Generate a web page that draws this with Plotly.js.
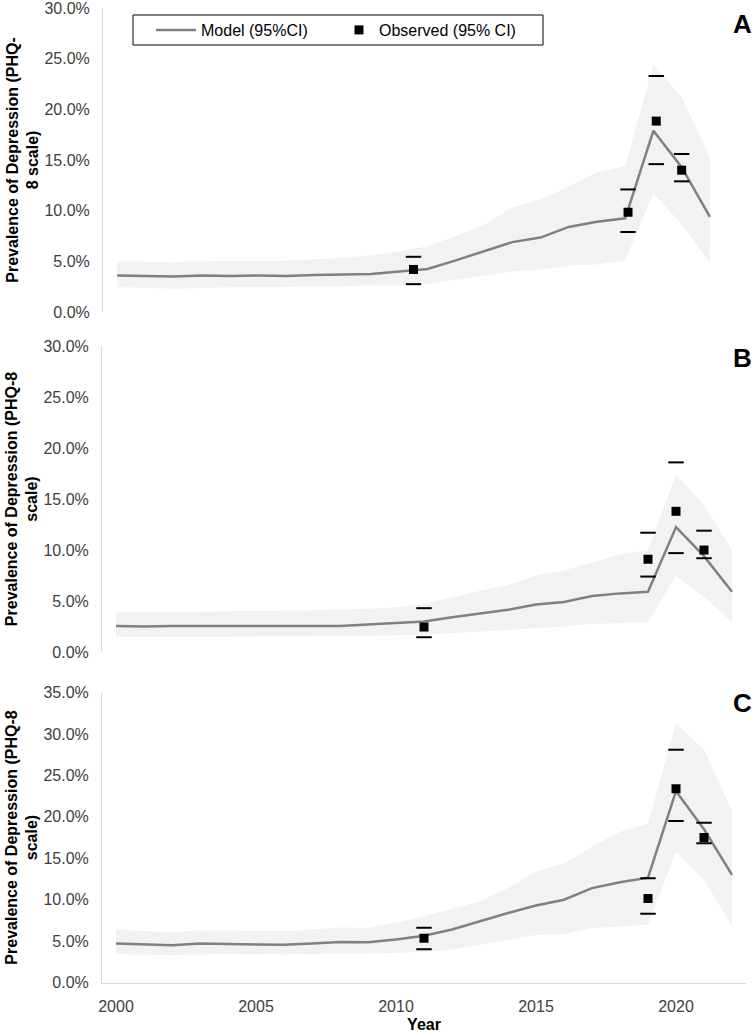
<!DOCTYPE html>
<html>
<head>
<meta charset="utf-8">
<script src="https://cdn.plot.ly/plotly-3.0.1.min.js"></script>
<style>
  html, body { margin: 0; padding: 0; background: #ffffff; }
  #chart { width: 755px; height: 1033px; }
</style>
</head>
<body>
<div id="chart"></div>
<script>
// ---- Years -------------------------------------------------------------
const yearsA = [2000,2001,2002,2003,2004,2005,2006,2007,2008,2009,2010,2011,2012,2013,2014,2015,2016,2017,2018,2019,2020,2021];
const yearsBC = [2000,2001,2002,2003,2004,2005,2006,2007,2008,2009,2010,2011,2012,2013,2014,2015,2016,2017,2018,2019,2020,2021,2022];
const xTicks = [2000, 2005, 2010, 2015, 2020];

// ---- Y tick labels -----------------------------------------------------
const yTicks30 = [0, 5, 10, 15, 20, 25, 30];
const yLabels30 = ['0.0%', '5.0%', '10.0%', '15.0%', '20.0%', '25.0%', '30.0%'];
const yTicks35 = [0, 5, 10, 15, 20, 25, 30, 35];
const yLabels35 = ['0.0%', '5.0%', '10.0%', '15.0%', '20.0%', '25.0%', '30.0%', '35.0%'];

// ---- Panel A: modelled prevalence (%) with 95% CI ----------------------
const modelA = [3.6,3.55,3.5,3.6,3.55,3.6,3.55,3.65,3.7,3.75,4.0,4.25,5.1,6.0,6.9,7.35,8.4,8.9,9.25,17.9,14.3,9.4];
const upperA = [5.0,4.95,4.9,5.0,5.0,5.0,5.05,5.2,5.35,5.6,6.0,6.5,7.5,8.6,10.3,11.1,12.4,13.8,14.4,24.4,21.2,15.3];
const lowerA = [2.45,2.4,2.3,2.4,2.45,2.45,2.45,2.5,2.55,2.6,2.65,2.8,3.2,3.6,4.0,4.2,4.6,4.7,5.1,11.7,8.7,4.9];
// Panel A: observed survey estimates
const obsYearA = [2010.5, 2018.1, 2019.1, 2020.0];
const obsA     = [4.2, 9.85, 18.85, 14.0];
const obsHiA   = [5.45, 12.1, 23.3, 15.6];
const obsLoA   = [2.75, 7.9, 14.6, 12.9];

// ---- Panel B -----------------------------------------------------------
const modelB = [2.55,2.5,2.55,2.55,2.55,2.55,2.55,2.6,2.55,2.7,2.85,3.0,3.4,3.8,4.15,4.65,4.9,5.5,5.75,5.9,12.25,9.4,5.9];
const upperB = [3.9,3.9,3.95,3.95,4.0,4.0,4.05,4.1,4.15,4.25,4.4,4.75,5.35,6.0,6.55,7.5,8.0,8.8,9.6,10.0,17.4,14.4,10.0];
const lowerB = [1.5,1.5,1.5,1.5,1.5,1.5,1.55,1.55,1.55,1.6,1.65,1.7,1.9,2.05,2.2,2.35,2.5,2.75,2.85,2.95,7.5,5.4,2.95];
const obsYearB = [2011, 2019, 2020, 2021];
const obsB     = [2.45, 9.1, 13.8, 10.0];
const obsHiB   = [4.3, 11.7, 18.6, 11.9];
const obsLoB   = [1.45, 7.4, 9.7, 9.2];

// ---- Panel C -----------------------------------------------------------
const modelC = [4.7,4.6,4.5,4.7,4.65,4.65,4.55,4.7,4.9,4.85,5.2,5.65,6.4,7.4,8.4,9.3,10.0,11.4,12.1,12.65,23.1,18.5,13.0];
const upperC = [6.4,6.2,6.05,6.3,6.25,6.2,6.2,6.4,6.65,6.6,7.2,8.0,8.9,9.8,11.4,13.4,14.4,16.4,18.2,19.2,31.3,28.1,20.7];
const lowerC = [3.45,3.35,3.3,3.4,3.45,3.45,3.4,3.45,3.45,3.5,3.55,3.7,3.95,4.55,5.15,5.75,5.85,6.55,6.8,7.0,15.8,12.4,6.8];
const obsYearC = [2011, 2019, 2020, 2021];
const obsC     = [5.35, 10.15, 23.4, 17.5];
const obsHiC   = [6.6, 12.6, 28.1, 19.3];
const obsLoC   = [4.0, 8.3, 19.5, 16.8];

const panelLetters = ['A', 'B', 'C'];
const modelName = 'Model (95%CI)';
const obsName = 'Observed (95% CI)';
const yTitleA = 'Prevalence of Depression (PHQ-<br>8 scale)';
const yTitleBC = 'Prevalence of Depression (PHQ-8<br>scale)';

// ---- Styling -----------------------------------------------------------
const W = 755, H = 1033;
const FONT = '"Liberation Sans", Arial, sans-serif';
const bandColor = '#f2f2f2';
const lineColor = '#808080';
const axisColor = '#d9d9d9';
const tickColor = '#404040';

const px = v => v / W;            // horizontal pixel -> paper fraction
const py = v => 1 - v / H;        // vertical pixel (from top) -> paper fraction

function panelTraces(years, lower, model, upper, oYears, oVal, oHi, oLo, xa, ya, legend) {
  const band = {
    type: 'scatter', mode: 'lines', xaxis: xa, yaxis: ya,
    x: years.concat(years.slice().reverse()),
    y: upper.concat(lower.slice().reverse()),
    fill: 'toself', fillcolor: bandColor, line: {width: 0, color: bandColor},
    hoverinfo: 'skip', showlegend: false
  };
  const line = {
    type: 'scatter', mode: 'lines', xaxis: xa, yaxis: ya,
    x: years, y: model, name: modelName, legend: 'legend',
    line: {color: lineColor, width: 2.5}, showlegend: legend
  };
  const dash = {symbol: 'line-ew', size: 11, line: {width: 2, color: '#000000'}};
  const ciHi = {
    type: 'scatter', mode: 'markers', xaxis: xa, yaxis: ya,
    x: oYears, y: oHi, showlegend: false, marker: dash
  };
  const ciLo = {
    type: 'scatter', mode: 'markers', xaxis: xa, yaxis: ya,
    x: oYears, y: oLo, showlegend: false, marker: dash
  };
  const obs = {
    type: 'scatter', mode: 'markers', xaxis: xa, yaxis: ya,
    x: oYears, y: oVal, name: obsName, showlegend: legend, legend: 'legend2',
    marker: {symbol: 'square', size: 9, color: '#000000'}
  };
  return [band, line, ciHi, ciLo, obs];
}

const data = [].concat(
  panelTraces(yearsA, lowerA, modelA, upperA, obsYearA, obsA, obsHiA, obsLoA, 'x', 'y', true),
  panelTraces(yearsBC, lowerB, modelB, upperB, obsYearB, obsB, obsHiB, obsLoB, 'x2', 'y2', false),
  panelTraces(yearsBC, lowerC, modelC, upperC, obsYearC, obsC, obsHiC, obsLoC, 'x3', 'y3', false)
);

function yAxis(domTop, domBottom, maxV, vals, labels, title, anchor) {
  return {
    domain: [py(domBottom), py(domTop)], range: [0, maxV * 1.0005], anchor: anchor,
    tickmode: 'array', tickvals: vals, ticktext: labels,
    tickfont: {family: FONT, size: 16, color: tickColor},
    ticks: '', ticklabelstandoff: 9, ticklabeloverflow: 'allow',
    showline: true, linecolor: axisColor, linewidth: 1,
    showgrid: false, zeroline: false, fixedrange: true,
    title: {text: title, font: {family: FONT, size: 16, color: '#000000', weight: 700}, standoff: 1}
  };
}

const legendBase = {
  orientation: 'h', xanchor: 'left', yanchor: 'middle', y: py(30),
  bgcolor: 'rgba(0,0,0,0)', borderwidth: 0,
  font: {family: FONT, size: 16, color: '#000000'}
};

const layout = {
  width: W, height: H,
  margin: {l: 0, r: 0, t: 0, b: 0},
  paper_bgcolor: '#ffffff', plot_bgcolor: 'rgba(0,0,0,0)',
  font: {family: FONT, color: tickColor},
  showlegend: true,
  legend: Object.assign({}, legendBase, {x: px(151), itemwidth: 40}),
  legend2: Object.assign({}, legendBase, {x: px(339)}),
  xaxis: {
    domain: [px(103), px(724)], range: [1999.5, 2021.5], anchor: 'y',
    showticklabels: false, showline: false, showgrid: false, zeroline: false, ticks: '', fixedrange: true
  },
  xaxis2: {
    domain: [px(102), px(746)], range: [1999.5, 2022.5], anchor: 'y2',
    showticklabels: false, showline: false, showgrid: false, zeroline: false, ticks: '', fixedrange: true
  },
  xaxis3: {
    domain: [px(102), px(746)], range: [1999.5, 2022.5], anchor: 'y3',
    tickmode: 'array', tickvals: xTicks, ticks: '', ticklabelstandoff: 9,
    tickfont: {family: FONT, size: 16, color: tickColor},
    showline: true, linecolor: axisColor, linewidth: 1,
    showgrid: false, zeroline: false, fixedrange: true,
    title: {text: 'Year', font: {family: FONT, size: 16, color: '#000000', weight: 700}, standoff: 6}
  },
  yaxis: yAxis(8, 312, 30, yTicks30, yLabels30, yTitleA, 'x'),
  yaxis2: yAxis(346, 652, 30, yTicks30, yLabels30, yTitleBC, 'x2'),
  yaxis3: yAxis(692.5, 982.5, 35, yTicks35, yLabels35, yTitleBC, 'x3'),
  shapes: [{
    type: 'rect', xref: 'paper', yref: 'paper',
    x0: px(133), x1: px(543), y0: py(45), y1: py(15),
    line: {color: '#000000', width: 1}, fillcolor: 'rgba(0,0,0,0)'
  }],
  annotations: panelLetters.map((t, i) => ({
    text: t, xref: 'paper', yref: 'paper',
    x: px(742), y: py([24, 358, 703][i]), xanchor: 'center', yanchor: 'middle',
    showarrow: false, font: {family: FONT, size: 26, color: '#000000', weight: 700}
  }))
};

Plotly.newPlot('chart', data, layout, {displayModeBar: false, staticPlot: true});
</script>
</body>
</html>
